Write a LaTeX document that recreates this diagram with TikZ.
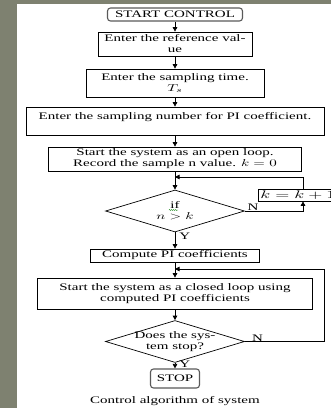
\documentclass[tikz,border=0pt]{standalone}
\usepackage{fontspec}
\setmainfont{Liberation Serif}[FakeStretch=1.5]
\usetikzlibrary{shapes.geometric, arrows.meta, positioning, calc, decorations.pathmorphing}
\definecolor{slidegray}{HTML}{7E8170}
\definecolor{termgray}{HTML}{5A5A5A}
\definecolor{spellgreen}{HTML}{3C9A3C}
\newcommand{\flowfont}{\fontsize{10}{11}\selectfont}
\newcommand{\wm}[2][1.5]{\scalebox{#1}[1]{$#2$}}
\tikzset{
  procbox/.style={draw=black, fill=white, line width=0.7pt, align=center,
                  font=\flowfont, inner sep=1pt, minimum width=#1},
  termbox/.style={draw=termgray, fill=white, rounded corners=3pt, line width=1.1pt,
                  font=\flowfont, inner sep=1pt, minimum width=#1},
  decision/.style={diamond, draw=black, fill=white, line width=0.7pt,
                   minimum width=139pt, minimum height=42pt, inner sep=0pt},
  flowarr/.style={-{Triangle[length=4.5pt, width=4.5pt]}, line width=0.7pt},
  yn/.style={font=\flowfont, inner sep=0pt},
  spellmark/.style={draw=spellgreen, line width=0.4pt, decorate,
                    decoration={snake, amplitude=0.6pt, segment length=2pt}},
}

\begin{document}
\begin{tikzpicture}[x=1pt, y=-1pt]
  \clip (0,0) rectangle (331,408);
  % Slide frame
  \fill[slidegray] (0,0) rectangle (331,408);
  \fill[white] (17,4) rectangle (331,408);

  % Set-up steps
  \node[termbox=135pt, minimum height=13pt] (start) at (175,14.5) {START CONTROL};
  \node[procbox=154pt, minimum height=24pt] (refv) at (175,44) {Enter the reference val-\\ue};
  \node[procbox=178pt, minimum height=28pt] (tsamp) at (175,83) {Enter the sampling time.\\ \wm{T_s}};
  \node[procbox=298pt, minimum height=28pt] (nsamp) at (175,121) {Enter the sampling number for PI coefficient.\\ \mbox{}};
  \node[procbox=253pt, minimum height=24pt] (openl) at (175,159) {Start the system as an open loop.\\ Record the sample n value. \wm{k = 0}};

  % Sampling loop
  \node[decision] (ifnk) at (175,211) {};
  \node[font=\flowfont, align=center] (ifnktxt) at (ifnk) {if\\ \wm{n > k}};
  \draw[spellmark] (169,210) -- (178,210);
  \node[procbox=90pt, text width=86pt, align=left, anchor=west, minimum height=12pt,
        font=\fontsize{11}{12}\selectfont] (kinc) at (258,195) {\wm[1.65]{k = k + 1}};
  \coordinate (kcol) at (303,0);
  \coordinate (join1) at (175,177);

  % Closed loop
  \node[procbox=169pt, minimum height=13pt] (coef) at (175,255.5) {Compute PI coefficients};
  \node[procbox=275pt, minimum height=31pt] (closedl) at (175,293.5) {Start the system as a closed loop using\\ computed PI coefficients};
  \node[decision] (stopq) at (175,341.5) {};
  \node[font=\flowfont, align=center] (stopqtxt) at (stopq) {Does the sys-\\ tem stop?};
  \node[termbox=49pt, minimum height=19pt] (stop) at (175,378.5) {STOP};
  \node[font=\flowfont] (caption) at (175,401) {Control algorithm of system};
  \coordinate (rcol) at (324,0);
  \coordinate (join2) at (175,269);

  % Arrows
  \draw[flowarr] (start) -- (refv);
  \draw[flowarr] (refv) -- (tsamp);
  \draw[flowarr] (tsamp) -- (nsamp);
  \draw[flowarr] (nsamp) -- (openl);
  \draw[flowarr] (openl) -- (ifnk);
  \draw[flowarr] (ifnk) -- (coef) node[yn, pos=0.25, right=4pt] {Y};
  \draw[flowarr] (ifnk.east) -| (kcol |- kinc.south) node[yn, pos=0.07, above] {N};
  \draw[flowarr] (kcol |- kinc.north) |- (join1);
  \draw[flowarr] (coef) -- (closedl);
  \draw[flowarr] (closedl) -- (stopq);
  \draw[flowarr] (stopq.east) -| (rcol |- join2) node[yn, pos=0.08, above] {N} -- (join2);
  \draw[flowarr] (stopq) -- (stop) node[yn, pos=0.2, right=4pt] {Y};
\end{tikzpicture}
\end{document}
